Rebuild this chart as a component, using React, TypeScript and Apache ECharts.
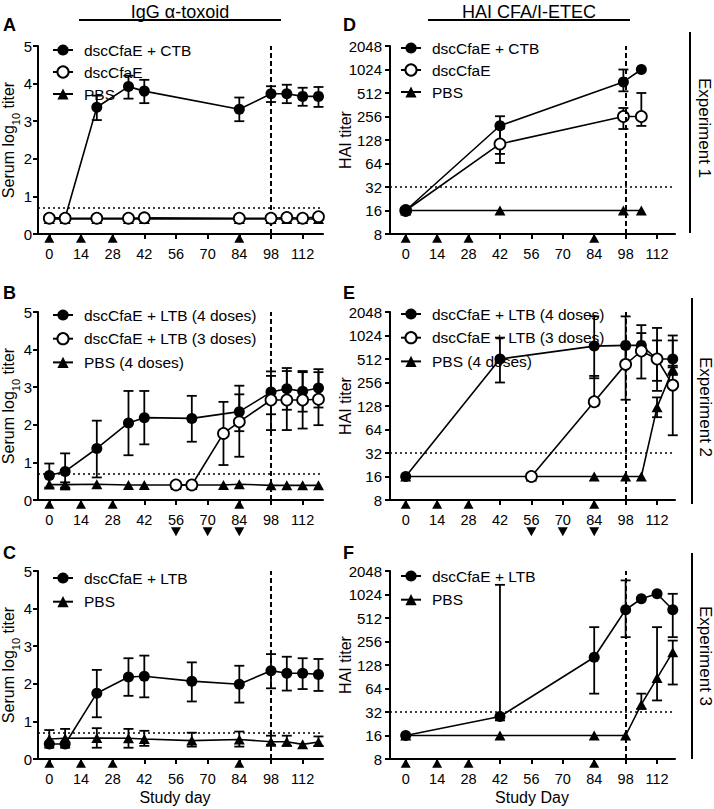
import React, { useEffect, useRef } from "react";
import * as echarts from "echarts";

const FONT = "'Liberation Sans', Arial, Helvetica, sans-serif";

// ---------- shared axis data ----------
const dayTicks = [0, 14, 28, 42, 56, 70, 84, 98, 112];
const doseDays = [0, 14, 28, 84];
const boostDays = [56, 70, 84];
const challengeDay = 98;
const iggThreshold = 0.7;
const haiThreshold = 32;

// ---------- Panel A: IgG, Experiment 1 ----------
const aCtbDays = [0, 7, 21, 35, 42, 84, 98, 105, 112, 119];
const aCtbMean = [0.43, 0.43, 3.37, 3.92, 3.8, 3.32, 3.73, 3.73, 3.66, 3.66];
const aCtbLow = [null, null, 3.03, 3.6, 3.48, 3.0, 3.51, 3.48, 3.41, 3.38];
const aCtbHigh = [null, null, 3.68, 4.21, 4.1, 3.63, 3.93, 3.97, 3.89, 3.91];
const aDscDays = [0, 7, 21, 35, 42, 84, 98, 105, 112, 119];
const aDscMean = [0.42, 0.42, 0.42, 0.42, 0.43, 0.42, 0.42, 0.44, 0.42, 0.46];
const aDscLow = [0.36, null, null, null, null, null, null, null, null, 0.38];
const aDscHigh = [0.5, null, null, null, null, null, null, null, null, 0.52];
const aPbsDays = [0, 7, 21, 35, 42, 84, 98, 105, 112, 119];
const aPbsMean = [0.4, 0.4, 0.4, 0.4, 0.4, 0.4, 0.4, 0.4, 0.4, 0.4];

// ---------- Panel B: IgG, Experiment 2 ----------
const bLtb4Days = [0, 7, 21, 35, 42, 63, 84, 98, 105, 112, 119];
const bLtb4Mean = [0.65, 0.76, 1.37, 2.05, 2.19, 2.17, 2.35, 2.87, 2.96, 2.89, 2.98];
const bLtb4Low = [0.33, 0.28, 0.6, 1.19, 1.48, 1.55, 1.15, 2.28, 2.4, 2.35, 2.46];
const bLtb4High = [0.97, 1.24, 2.11, 2.9, 2.9, 2.77, 3.04, 3.42, 3.51, 3.43, 3.48];
const bLtb3Days = [56, 63, 77, 84, 98, 105, 112, 119];
const bLtb3Mean = [0.4, 0.4, 1.77, 2.08, 2.66, 2.66, 2.66, 2.68];
const bLtb3Low = [null, null, 0.93, 1.83, 1.86, 1.86, 1.9, 1.99];
const bLtb3High = [null, null, 2.61, 2.81, 3.3, 3.43, 3.4, 3.4];
const bPbsDays = [0, 7, 21, 35, 42, 56, 63, 77, 84, 98, 105, 112, 119];
const bPbsMean = [0.41, 0.41, 0.42, 0.4, 0.4, 0.4, 0.4, 0.4, 0.42, 0.39, 0.39, 0.39, 0.39];
const bPbsLow = [null, 0.33, null, null, null, null, null, null, null, null, null, null, null];
const bPbsHigh = [null, 0.47, null, null, null, null, null, null, null, null, null, null, null];

// ---------- Panel C: IgG, Experiment 3 ----------
const cLtbDays = [0, 7, 21, 35, 42, 63, 84, 98, 105, 112, 119];
const cLtbMean = [0.4, 0.4, 1.75, 2.18, 2.2, 2.07, 1.99, 2.35, 2.28, 2.28, 2.25];
const cLtbLow = [null, null, 1.11, 1.68, 1.64, 1.53, 1.5, 1.88, 1.82, 1.86, 1.81];
const cLtbHigh = [null, null, 2.37, 2.68, 2.75, 2.57, 2.48, 2.79, 2.72, 2.68, 2.66];
const cPbsDays = [0, 7, 21, 35, 42, 63, 84, 98, 105, 112, 119];
const cPbsMean = [0.53, 0.55, 0.56, 0.55, 0.53, 0.49, 0.52, 0.46, 0.46, 0.39, 0.45];
const cPbsLow = [0.3, 0.3, 0.3, 0.3, 0.35, 0.33, 0.33, 0.38, 0.35, null, 0.35];
const cPbsHigh = [0.77, 0.8, 0.82, 0.8, 0.75, 0.7, 0.73, 0.62, 0.62, null, 0.6];

// ---------- Panel D: HAI, Experiment 1 ----------
const dCtbDays = [0, 42, 97, 105];
const dCtbMean = [16, 195, 709, 1024];
const dCtbLow = [null, 85, 538, null];
const dCtbHigh = [null, 258, 1024, null];
const dDscDays = [0, 42, 97, 105];
const dDscMean = [16, 114, 256, 256];
const dDscLow = [null, 65, 177, 194];
const dDscHigh = [null, 180, 329, 512];
const dPbsDays = [0, 42, 97, 105];
const dPbsMean = [16, 16, 16, 16];

// ---------- Panel E: HAI, Experiment 2 ----------
const eLtb4Days = [0, 42, 84, 98, 105, 112, 119];
const eLtb4Mean = [16, 512, 749, 765, 765, 512, 512];
const eLtb4Low = [null, 256, 290, 440, 600, 269, 400];
const eLtb4High = [null, 962, 1800, 1800, 1390, 1280, 1024];
const eLtb3Days = [56, 84, 98, 105, 112, 119];
const eLtb3Mean = [16, 145, 437, 648, 512, 237];
const eLtb3Low = [null, 130, 154, 288, 200, 54];
const eLtb3High = [null, 311, 760, 1100, 885, 885];
const ePbsDays = [0, 56, 84, 98, 105, 112, 119];
const ePbsMean = [16, 16, 16, 16, 16, 123, 378];
const ePbsLow = [null, null, null, null, null, 92, 320];
const ePbsHigh = [null, null, null, null, null, 165, 420];

// ---------- Panel F: HAI, Experiment 3 ----------
const fLtbDays = [0, 42, 84, 98, 105, 112, 119];
const fLtbMean = [16, 28, 161, 653, 903, 1045, 653];
const fLtbLow = [null, 25, 55, 291, 621, 566, 291];
const fLtbHigh = [null, 1362, 391, 1552, null, null, 1045];
const fPbsDays = [0, 42, 84, 98, 105, 112, 119];
const fPbsMean = [16, 16, 16, 16, 40, 87, 187];
const fPbsLow = [null, null, null, null, 35, 45, 72];
const fPbsHigh = [null, null, null, null, 55, 391, 263];

// ---------- layout ----------
const GRID_H = 188;
const TOPS = [46, 312, 571];
const LEFT_X = 38;
const RIGHT_X = 390;
const GRID_W = 285;
const LEFT_RANGE = [-5, 121];
const RIGHT_RANGE = [-7, 120];
const DOSE_PX = 4.3; // dose marker offset below axis
const BOOST_PX = 31.7; // boost marker offset below axis

type Kind = "filled" | "open" | "tri";

function lineSeries(name: string, idx: number, days: number[], mean: number[], kind: Kind, z: number, extra: any = {}) {
  return {
    type: "line",
    name,
    xAxisIndex: idx,
    yAxisIndex: idx,
    data: days.map((d, i) => [d, mean[i]]),
    symbol: kind === "tri" ? "triangle" : "circle",
    symbolSize: kind === "tri" ? [11, 10] : 11,
    showAllSymbol: true,
    lineStyle: { color: "#000", width: 1.6 },
    itemStyle:
      kind === "open"
        ? { color: "#fff", borderColor: "#000", borderWidth: 1.8, opacity: 1 }
        : { color: "#000", borderWidth: 0, opacity: 1 },
    z,
    silent: true,
    emphasis: { disabled: true },
    ...extra,
  };
}

function errSeries(idx: number, days: number[], low: (number | null)[], high: (number | null)[], z = 2) {
  const data: number[][] = [];
  days.forEach((d, i) => {
    const lo = low[i];
    const hi = high[i];
    if (lo != null && hi != null) data.push([d, lo, hi]);
  });
  return {
    type: "custom",
    xAxisIndex: idx,
    yAxisIndex: idx,
    z,
    silent: true,
    encode: { x: 0, y: [1, 2] },
    data,
    renderItem: (_params: any, api: any) => {
      const x = api.value(0);
      const lo = api.coord([x, api.value(1)]);
      const hi = api.coord([x, api.value(2)]);
      const w = 5;
      const st = { stroke: "#000", lineWidth: 1.8 };
      return {
        type: "group",
        children: [
          { type: "line", shape: { x1: lo[0], y1: lo[1], x2: hi[0], y2: hi[1] }, style: st },
          { type: "line", shape: { x1: lo[0] - w, y1: lo[1], x2: lo[0] + w, y2: lo[1] }, style: st },
          { type: "line", shape: { x1: hi[0] - w, y1: hi[1], x2: hi[0] + w, y2: hi[1] }, style: st },
        ],
      };
    },
  };
}

function doseSeries(idx: number, days: number[], y: number, down: boolean) {
  return {
    type: "scatter",
    xAxisIndex: idx,
    yAxisIndex: idx,
    data: days.map((d) => [d, y]),
    symbol: "triangle",
    symbolSize: [10, 9],
    symbolRotate: down ? 180 : 0,
    itemStyle: { color: "#000", opacity: 1 },
    clip: false,
    silent: true,
    z: 6,
  };
}

function refLines(isLog: boolean, range: number[]) {
  const yLo = isLog ? 8 : 0;
  const yHi = isLog ? 2048 : 5;
  const thr = isLog ? haiThreshold : iggThreshold;
  return {
    silent: true,
    symbol: ["none", "none"],
    label: { show: false },
    animation: false,
    data: [
      [
        { coord: [challengeDay, yLo], lineStyle: { type: [5, 3], width: 2, color: "#000" } },
        { coord: [challengeDay, yHi] },
      ],
      [
        { coord: [range[0], thr], lineStyle: { type: [2, 3], width: 1.6, color: "#000" } },
        { coord: [range[1], thr] },
      ],
    ],
  };
}

function logBelow(px: number) {
  const pxPerDoubling = GRID_H / 8;
  return 8 * Math.pow(2, -px / pxPerDoubling);
}
function linBelow(px: number) {
  return -px / (GRID_H / 5);
}

function legend(left: number, top: number, names: string[], gap: number) {
  return {
    left,
    top,
    orient: "vertical",
    itemGap: gap,
    itemWidth: 20,
    itemHeight: 14,
    padding: 0,
    selectedMode: false,
    data: names,
    textStyle: { fontFamily: FONT, fontSize: 15.5, color: "#000", padding: [0, 0, 0, 6] },
  };
}

function buildOption() {
  const grids: any[] = [];
  const xAxes: any[] = [];
  const yAxes: any[] = [];
  for (let col = 0; col < 2; col++) {
    for (let row = 0; row < 3; row++) {
      const idx = col * 3 + row;
      const isLog = col === 1;
      const range = isLog ? RIGHT_RANGE : LEFT_RANGE;
      grids.push({ left: isLog ? RIGHT_X : LEFT_X, top: TOPS[row], width: GRID_W, height: GRID_H });
      xAxes.push({
        type: "value",
        gridIndex: idx,
        min: range[0],
        max: range[1],
        axisLine: { onZero: false, lineStyle: { color: "#000", width: 2 } },
        axisTick: { customValues: dayTicks, length: 5, lineStyle: { color: "#000", width: 2 } },
        axisLabel: { customValues: dayTicks, color: "#000", fontSize: 14.5, fontFamily: FONT, margin: 12 },
        splitLine: { show: false },
      });
      yAxes.push(
        isLog
          ? {
              type: "log",
              logBase: 2,
              gridIndex: idx,
              min: 8,
              max: 2048,
              axisLine: { show: true, onZero: false, lineStyle: { color: "#000", width: 2 } },
              axisTick: { show: true, length: 5, lineStyle: { color: "#000", width: 2 } },
              axisLabel: {
                color: "#000",
                fontSize: 15,
                fontFamily: FONT,
                margin: 8,
                formatter: (v: number) => String(Math.round(v)),
              },
              splitLine: { show: false },
              minorTick: { show: false },
            }
          : {
              type: "value",
              gridIndex: idx,
              min: 0,
              max: 5,
              interval: 1,
              axisLine: { show: true, onZero: false, lineStyle: { color: "#000", width: 2 } },
              axisTick: { show: true, length: 5, lineStyle: { color: "#000", width: 2 } },
              axisLabel: { color: "#000", fontSize: 15, fontFamily: FONT, margin: 6 },
              splitLine: { show: false },
            }
      );
    }
  }

  const linDose = linBelow(DOSE_PX);
  const linBoost = linBelow(BOOST_PX);
  const lgDose = logBelow(DOSE_PX);
  const lgBoost = logBelow(BOOST_PX);

  const series: any[] = [
    // A (idx 0)
    errSeries(0, aCtbDays, aCtbLow, aCtbHigh),
    errSeries(0, aDscDays, aDscLow, aDscHigh),
    lineSeries("PBS", 0, aPbsDays, aPbsMean, "tri", 3, { markLine: refLines(false, LEFT_RANGE) }),
    lineSeries("dscCfaE + CTB", 0, aCtbDays, aCtbMean, "filled", 4),
    lineSeries("dscCfaE", 0, aDscDays, aDscMean, "open", 5),
    doseSeries(0, doseDays, linDose, false),
    // B (idx 1)
    errSeries(1, bLtb4Days, bLtb4Low, bLtb4High),
    errSeries(1, bLtb3Days, bLtb3Low, bLtb3High),
    errSeries(1, bPbsDays, bPbsLow, bPbsHigh),
    lineSeries("PBS (4 doses)", 1, bPbsDays, bPbsMean, "tri", 3, { markLine: refLines(false, LEFT_RANGE) }),
    lineSeries("dscCfaE + LTB (4 doses)", 1, bLtb4Days, bLtb4Mean, "filled", 4),
    lineSeries("dscCfaE + LTB (3 doses)", 1, bLtb3Days, bLtb3Mean, "open", 5),
    doseSeries(1, doseDays, linDose, false),
    doseSeries(1, boostDays, linBoost, true),
    // C (idx 2)
    errSeries(2, cLtbDays, cLtbLow, cLtbHigh),
    errSeries(2, cPbsDays, cPbsLow, cPbsHigh),
    lineSeries("dscCfaE + LTB", 2, cLtbDays, cLtbMean, "filled", 3, { markLine: refLines(false, LEFT_RANGE) }),
    lineSeries("PBS", 2, cPbsDays, cPbsMean, "tri", 4),
    doseSeries(2, doseDays, linDose, false),
    // D (idx 3)
    errSeries(3, dCtbDays, dCtbLow, dCtbHigh),
    errSeries(3, dDscDays, dDscLow, dDscHigh),
    lineSeries("PBS", 3, dPbsDays, dPbsMean, "tri", 3, { markLine: refLines(true, RIGHT_RANGE) }),
    lineSeries("dscCfaE", 3, dDscDays, dDscMean, "open", 4),
    lineSeries("dscCfaE + CTB", 3, dCtbDays, dCtbMean, "filled", 5),
    doseSeries(3, doseDays, lgDose, false),
    // E (idx 4)
    errSeries(4, eLtb4Days, eLtb4Low, eLtb4High),
    errSeries(4, eLtb3Days, eLtb3Low, eLtb3High),
    errSeries(4, ePbsDays, ePbsLow, ePbsHigh),
    lineSeries("PBS (4 doses)", 4, ePbsDays, ePbsMean, "tri", 3, { markLine: refLines(true, RIGHT_RANGE) }),
    lineSeries("dscCfaE + LTB (4 doses)", 4, eLtb4Days, eLtb4Mean, "filled", 4),
    lineSeries("dscCfaE + LTB (3 doses)", 4, eLtb3Days, eLtb3Mean, "open", 5),
    doseSeries(4, doseDays, lgDose, false),
    doseSeries(4, boostDays, lgBoost, true),
    // F (idx 5)
    errSeries(5, fLtbDays, fLtbLow, fLtbHigh),
    errSeries(5, fPbsDays, fPbsLow, fPbsHigh),
    lineSeries("PBS", 5, fPbsDays, fPbsMean, "tri", 3, { markLine: refLines(true, RIGHT_RANGE) }),
    lineSeries("dscCfaE + LTB", 5, fLtbDays, fLtbMean, "filled", 4),
    doseSeries(5, doseDays, lgDose, false),
  ];

  const legends = [
    legend(52, 42, ["dscCfaE + CTB", "dscCfaE", "PBS"], 6),
    legend(52, 307, ["dscCfaE + LTB (4 doses)", "dscCfaE + LTB (3 doses)", "PBS (4 doses)"], 7.7),
    legend(52, 570, ["dscCfaE + LTB", "PBS"], 7.7),
    legend(400, 40, ["dscCfaE + CTB", "dscCfaE", "PBS"], 6),
    legend(400, 306, ["dscCfaE + LTB (4 doses)", "dscCfaE + LTB (3 doses)", "PBS (4 doses)"], 7.7),
    legend(400, 568, ["dscCfaE + LTB", "PBS"], 7.7),
  ];

  const txt = (x: number, y: number, text: string, opts: any = {}) => ({
    type: "text",
    x,
    y,
    rotation: opts.rotation || 0,
    silent: true,
    style: {
      text,
      fill: "#000",
      font: `${opts.bold ? "bold " : ""}${opts.size || 16}px ${FONT}`,
      align: opts.align || "center",
      verticalAlign: "middle",
      rich: opts.rich,
    },
  });
  const ln = (x1: number, y1: number, x2: number, y2: number) => ({
    type: "line",
    silent: true,
    shape: { x1, y1, x2, y2 },
    style: { stroke: "#000", lineWidth: 2 },
  });

  const serumRich = {
    s: { fontSize: 11, fontFamily: FONT, fill: "#000", verticalAlign: "bottom", padding: [0, 0, -5, 0] },
  };
  const serumText = "Serum log{s|10} titer";

  const graphic: any[] = [
    txt(180, 12, "IgG α-toxoid", { size: 18 }),
    ln(79, 20, 281, 20),
    txt(529, 12, "HAI CFA/I-ETEC", { size: 18 }),
    ln(428, 20, 630, 20),
    txt(3, 24.5, "A", { bold: true, size: 18, align: "left" }),
    txt(343, 24.5, "D", { bold: true, size: 18, align: "left" }),
    txt(3, 292.5, "B", { bold: true, size: 18, align: "left" }),
    txt(343, 292.5, "E", { bold: true, size: 18, align: "left" }),
    txt(3, 552.5, "C", { bold: true, size: 18, align: "left" }),
    txt(343, 552.5, "F", { bold: true, size: 18, align: "left" }),
    txt(8, TOPS[0] + GRID_H / 2, serumText, { rotation: Math.PI / 2, rich: serumRich }),
    txt(8, TOPS[1] + GRID_H / 2, serumText, { rotation: Math.PI / 2, rich: serumRich }),
    txt(8, TOPS[2] + GRID_H / 2, serumText, { rotation: Math.PI / 2, rich: serumRich }),
    txt(345, TOPS[0] + GRID_H / 2, "HAI titer", { rotation: Math.PI / 2 }),
    txt(345, TOPS[1] + GRID_H / 2, "HAI titer", { rotation: Math.PI / 2 }),
    txt(345, TOPS[2] + GRID_H / 2, "HAI titer", { rotation: Math.PI / 2 }),
    txt(175, 797, "Study day"),
    txt(532, 797, "Study Day"),
    ln(690, 32, 690, 233),
    ln(692, 298, 692, 504),
    ln(692, 553, 692, 759),
    txt(704, 128, "Experiment 1", { rotation: -Math.PI / 2, size: 17 }),
    txt(705, 407, "Experiment 2", { rotation: -Math.PI / 2, size: 17 }),
    txt(705, 656, "Experiment 3", { rotation: -Math.PI / 2, size: 17 }),
  ];

  return {
    animation: false,
    backgroundColor: "#fff",
    textStyle: { fontFamily: FONT },
    grid: grids,
    xAxis: xAxes,
    yAxis: yAxes,
    legend: legends,
    series,
    graphic,
  };
}

export default function App() {
  const ref = useRef<HTMLDivElement>(null);
  useEffect(() => {
    if (!ref.current) return;
    const chart = echarts.init(ref.current, undefined, { renderer: "svg" });
    chart.setOption(buildOption() as any);
    return () => chart.dispose();
  }, []);
  return (
    <div
      ref={ref}
      style={{ position: "absolute", left: 0, top: 0, width: 714, height: 809, background: "#fff" }}
    />
  );
}
